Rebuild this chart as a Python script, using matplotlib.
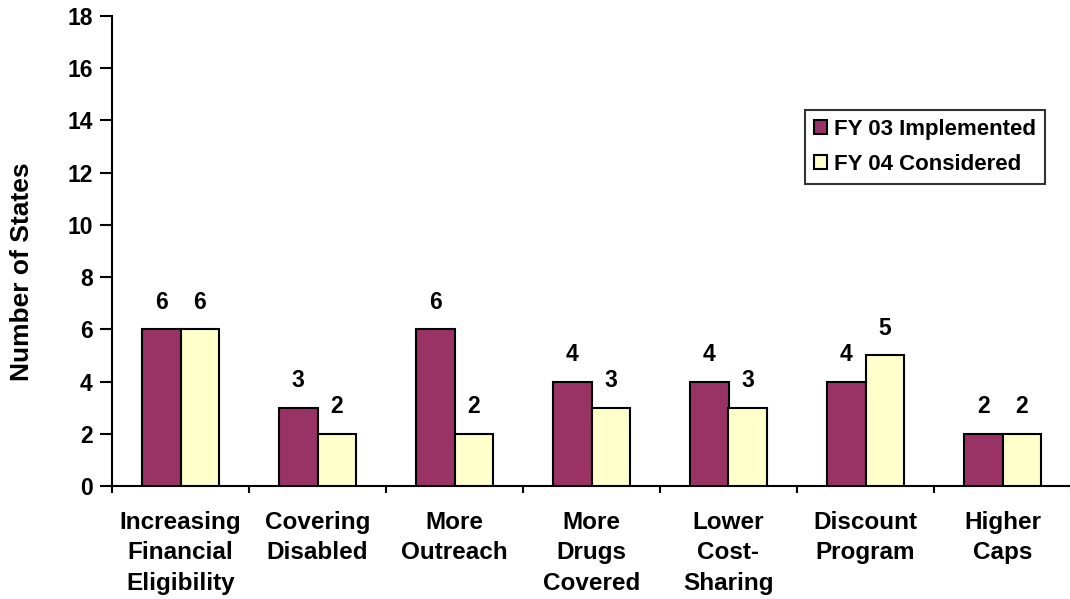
import matplotlib
matplotlib.use("Agg")
import matplotlib.pyplot as plt
import numpy as np
from matplotlib.patches import Patch

categories = ["Increasing\nFinancial\nEligibility", "Covering\nDisabled", "More\nOutreach",
              "More\nDrugs\nCovered", "Lower\nCost-\nSharing", "Discount\nProgram", "Higher\nCaps"]
fy03_implemented = [6, 3, 6, 4, 4, 4, 2]
fy04_considered = [6, 2, 2, 3, 3, 5, 2]
series_names = ["FY 03 Implemented", "FY 04 Considered"]
yticks = [0, 2, 4, 6, 8, 10, 12, 14, 16, 18]

plt.rcParams['font.family'] = ['Liberation Sans', 'DejaVu Sans']
plt.rcParams['font.weight'] = 'bold'

fig = plt.figure(figsize=(10.70, 5.99), dpi=100)
ax = fig.add_axes([112 / 1070, 1 - 486 / 599, (1071 - 112) / 1070, (486 - 16) / 599])

x = np.arange(len(categories))
w = 0.28
purple = "#993366"
cream = "#FFFFCC"
b1 = ax.bar(x - w / 2, fy03_implemented, w, color=purple, edgecolor="black", linewidth=1.5, zorder=3)
b2 = ax.bar(x + w / 2, fy04_considered, w, color=cream, edgecolor="black", linewidth=1.5, zorder=3)

for bars, vals in ((b1, fy03_implemented), (b2, fy04_considered)):
    for rect, v in zip(bars, vals):
        ax.text(rect.get_x() + rect.get_width() / 2, v + 0.6, str(v),
                ha="center", va="bottom", fontsize=16.5, fontweight="bold")

ax.set_xlim(-0.5, len(categories) - 0.5)
ax.set_ylim(0, 18)
ax.set_yticks(yticks)
ax.set_yticklabels([str(t) for t in yticks], fontsize=16.5, fontweight="bold")
ax.set_xticks(np.arange(len(categories) + 1) - 0.5)
ax.set_xticklabels([])
ax.tick_params(axis="x", direction="out", length=5, width=1.5)
ax.tick_params(axis="y", direction="out", length=9, width=1.5, pad=5)

for i, lab in enumerate(categories):
    ax.text(i, -0.95, lab, ha="center", va="top", fontsize=17.5, fontweight="bold",
            linespacing=1.42, transform=ax.transData)

for s in ("top", "right"):
    ax.spines[s].set_visible(False)
ax.spines["left"].set_linewidth(1.5)
ax.spines["bottom"].set_linewidth(1.5)

ax.set_ylabel("Number of States", fontsize=19, fontweight="bold")
ax.yaxis.set_label_coords(-(112 - 34) / 959, (486 - 272) / 470)

handles = [Patch(facecolor=purple, edgecolor="black", linewidth=1.5),
           Patch(facecolor=cream, edgecolor="black", linewidth=1.5)]
leg = ax.legend(handles, series_names, loc="upper left",
                bbox_to_anchor=((805 - 112) / 959, 1 - (110 - 16) / 470),
                prop={"size": 16, "weight": "bold"}, frameon=True, fancybox=False,
                handlelength=0.6, handleheight=0.6, handletextpad=0.3,
                borderpad=0.4, labelspacing=0.64, borderaxespad=0)
leg.get_frame().set_edgecolor("black")
leg.get_frame().set_linewidth(1.5)

fig.savefig("out.png", dpi=100)
